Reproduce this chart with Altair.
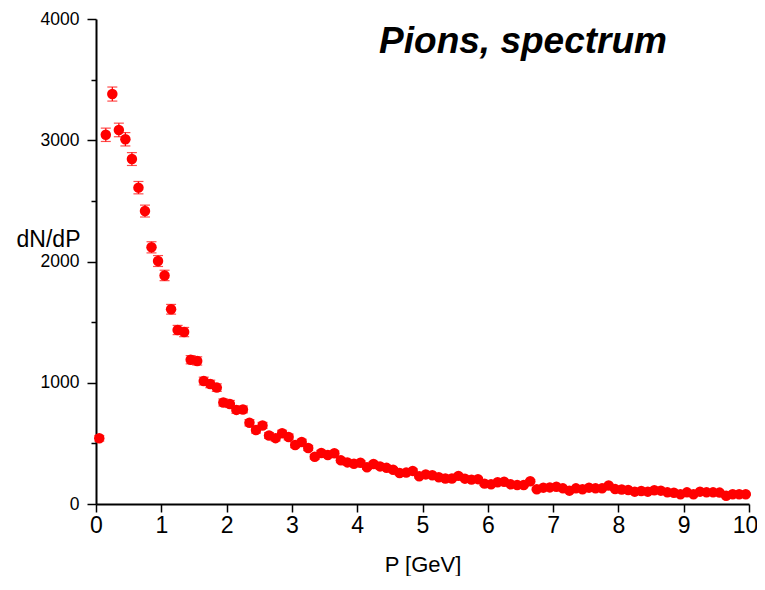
import altair as alt
import pandas as pd

# Bin centres P [GeV]
p = [0.05, 0.15, 0.25, 0.35, 0.45, 0.55, 0.65, 0.75, 0.85, 0.95,
     1.05, 1.15, 1.25, 1.35, 1.45, 1.55, 1.65, 1.75, 1.85, 1.95,
     2.05, 2.15, 2.25, 2.35, 2.45, 2.55, 2.65, 2.75, 2.85, 2.95,
     3.05, 3.15, 3.25, 3.35, 3.45, 3.55, 3.65, 3.75, 3.85, 3.95,
     4.05, 4.15, 4.25, 4.35, 4.45, 4.55, 4.65, 4.75, 4.85, 4.95,
     5.05, 5.15, 5.25, 5.35, 5.45, 5.55, 5.65, 5.75, 5.85, 5.95,
     6.05, 6.15, 6.25, 6.35, 6.45, 6.55, 6.65, 6.75, 6.85, 6.95,
     7.05, 7.15, 7.25, 7.35, 7.45, 7.55, 7.65, 7.75, 7.85, 7.95,
     8.05, 8.15, 8.25, 8.35, 8.45, 8.55, 8.65, 8.75, 8.85, 8.95,
     9.05, 9.15, 9.25, 9.35, 9.45, 9.55, 9.65, 9.75, 9.85, 9.95]

# dN/dP values
dndp = [542, 3045, 3381, 3085, 3008, 2845, 2609, 2416, 2117, 2004,
        1885, 1606, 1435, 1418, 1190, 1180, 1014, 990, 960, 837,
        825, 776, 780, 670, 610, 648, 565, 543, 584, 553,
        487, 511, 462, 390, 421, 404, 418, 360, 343, 332,
        340, 303, 330, 310, 298, 283, 255, 259, 273, 228,
        244, 237, 220, 210, 210, 232, 209, 201, 205, 168,
        162, 180, 184, 162, 157, 157, 188, 122, 135, 137,
        142, 129, 110, 129, 121, 135, 129, 129, 152, 123,
        120, 115, 102, 107, 102, 114, 110, 96, 93, 80,
        96, 80, 102, 96, 96, 94, 68, 80, 80, 80]

# error bars
err = [23, 55, 58, 56, 55, 53, 51, 49, 46, 45,
       43, 40, 38, 38, 34, 34, 32, 31, 31, 29,
       29, 28, 28, 26, 25, 25, 24, 23, 24, 24,
       22, 23, 21, 20, 21, 20, 20, 19, 19, 18,
       18, 17, 18, 18, 17, 17, 16, 16, 17, 15,
       16, 15, 15, 14, 14, 15, 14, 14, 14, 13,
       13, 13, 14, 13, 13, 13, 14, 11, 12, 12,
       12, 11, 10, 11, 11, 12, 11, 11, 12, 11,
       11, 11, 10, 10, 10, 11, 10, 10, 10, 9,
       10, 9, 10, 10, 10, 10, 8, 9, 9, 9]

x_ticks = [0, 0.5, 1, 1.5, 2, 2.5, 3, 3.5, 4, 4.5, 5, 5.5, 6, 6.5, 7, 7.5, 8, 8.5, 9, 9.5, 10]
y_ticks = [0, 500, 1000, 1500, 2000, 2500, 3000, 3500, 4000]
title_text = "Pions, spectrum"

df = pd.DataFrame({"p": p, "v": dndp, "e": err})
df["lo"] = df["v"] - df["e"]
df["hi"] = df["v"] + df["e"]

FONT = "Liberation Sans"
RED = "#ff0000"

xaxis = alt.Axis(
    values=x_ticks,
    labelExpr="datum.value % 1 == 0 ? datum.label : ''",
    format="d",
    title="P [GeV]",
    titleFont=FONT, titleFontSize=22, titleFontWeight="normal", titleColor="black",
    titlePadding=17,
    labelFont=FONT, labelFontSize=23, labelColor="black", labelPadding=2,
    labelFlush=False,
    labelOffset={"condition": {"test": "datum.value == 10", "value": -4}, "value": 0},
    domainColor="black", domainWidth=2,
    tickColor="black", tickWidth=1.5,
    tickSize={"condition": {"test": "datum.value % 1 != 0", "value": 5}, "value": 8},
    grid=False,
)
yaxis = alt.Axis(
    values=y_ticks,
    labelExpr="datum.value % 1000 == 0 ? datum.label : ''",
    format="d",
    title="dN/dP",
    titleAngle=0, titleAlign="right", titleBaseline="middle",
    titleX=-16, titleY=220,
    titleFont=FONT, titleFontSize=23, titleFontWeight="normal", titleColor="black",
    labelFont=FONT, labelFontSize=17.5, labelColor="black", labelPadding=8,
    labelFlush=False,
    domainColor="black", domainWidth=2,
    tickColor="black", tickWidth=1.5,
    tickSize={"condition": {"test": "datum.value % 1000 != 0", "value": 5}, "value": 9},
    grid=False,
)

xs = alt.Scale(domain=[0, 10], nice=False, zero=False)
ys = alt.Scale(domain=[0, 4000], nice=False)

base = alt.Chart(df)

bars = base.mark_rule(color=RED, strokeWidth=1.2).encode(
    x=alt.X("p:Q", scale=xs, axis=xaxis),
    y=alt.Y("lo:Q", scale=ys, axis=yaxis),
    y2="hi:Q",
)
cap_lo = base.mark_tick(color=RED, orient="horizontal", size=10, thickness=1.2).encode(
    x=alt.X("p:Q", scale=xs), y=alt.Y("lo:Q", scale=ys)
)
cap_hi = base.mark_tick(color=RED, orient="horizontal", size=10, thickness=1.2).encode(
    x=alt.X("p:Q", scale=xs), y=alt.Y("hi:Q", scale=ys)
)
pts = base.mark_circle(color=RED, opacity=1, size=110).encode(
    x=alt.X("p:Q", scale=xs), y=alt.Y("v:Q", scale=ys)
)

title = alt.Chart(pd.DataFrame({"t": [title_text]})).mark_text(
    font=FONT, fontSize=37, fontWeight="bold", fontStyle="italic",
    color="black", align="center", baseline="middle",
).encode(x=alt.value(427), y=alt.value(23), text="t:N")

chart = alt.layer(bars, cap_lo, cap_hi, pts, title).properties(
    width=653, height=485,
    background="white",
    padding={"left": 88, "top": 11, "right": 8, "bottom": 72},
    autosize=alt.AutoSizeParams(type="none"),
).configure_view(stroke=None)

chart.save("out.html", embed_options={"renderer": "svg", "actions": False})
